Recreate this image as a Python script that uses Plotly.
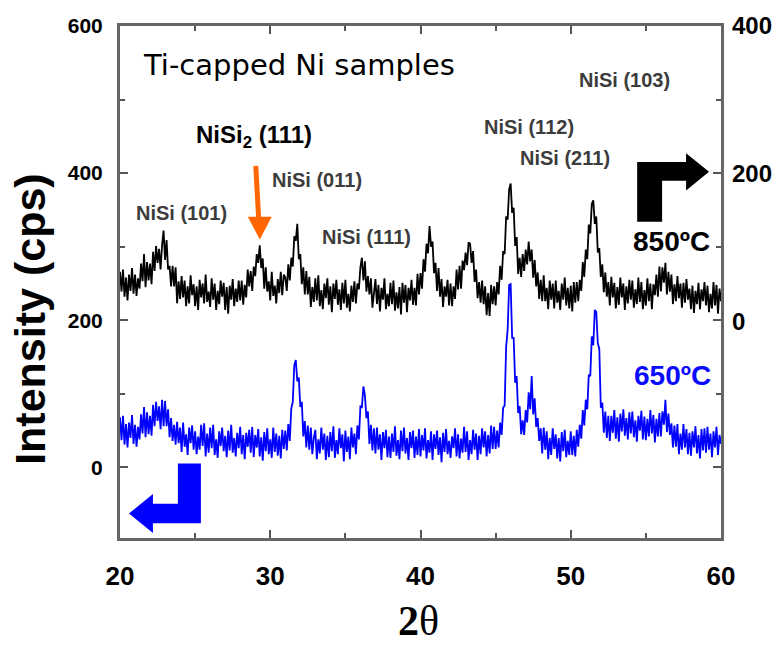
import plotly.graph_objects as go

# 2-theta grid (degrees), 0.1 step from 20 to 60
two_theta = [round(20 + 0.1 * i, 1) for i in range(401)]

# 850 C sample (left-axis units, cps)
i_850 = [
    266, 239, 269, 232, 258, 227, 262, 240, 271, 236,
    262, 233, 257, 243, 277, 253, 290, 245, 279, 254,
    277, 249, 293, 267, 301, 278, 297, 269, 302, 322,
    282, 309, 269, 274, 246, 274, 246, 272, 223, 253,
    229, 260, 231, 254, 219, 246, 223, 261, 234, 249,
    219, 246, 214, 255, 231, 250, 223, 262, 225, 239,
    218, 257, 228, 250, 214, 240, 222, 254, 232, 251,
    214, 245, 209, 247, 228, 256, 219, 243, 225, 254,
    227, 254, 221, 248, 231, 269, 246, 267, 240, 273,
    260, 290, 278, 302, 271, 284, 243, 272, 239, 253,
    227, 266, 233, 247, 223, 256, 237, 266, 234, 262,
    258, 240, 276, 254, 285, 273, 314, 308, 331, 283,
    290, 249, 272, 235, 267, 235, 259, 218, 245, 225,
    257, 227, 261, 219, 241, 215, 250, 230, 257, 221,
    246, 211, 250, 229, 255, 221, 242, 214, 251, 223,
    255, 217, 236, 212, 247, 225, 253, 223, 250, 242,
    272, 285, 254, 280, 239, 260, 235, 257, 217, 242,
    256, 222, 248, 212, 244, 228, 257, 215, 236, 219,
    251, 222, 254, 213, 238, 216, 245, 208, 251, 224,
    248, 211, 244, 227, 255, 221, 244, 220, 263, 235,
    264, 243, 283, 266, 304, 291, 328, 300, 307, 264,
    278, 240, 271, 232, 256, 218, 246, 232, 255, 220,
    250, 219, 246, 229, 269, 242, 274, 243, 281, 268,
    292, 275, 306, 304, 278, 294, 252, 269, 230, 252,
    224, 254, 222, 246, 207, 237, 206, 248, 222, 246,
    220, 252, 235, 274, 255, 294, 290, 341, 337, 378,
    386, 346, 353, 301, 313, 263, 285, 259, 290, 267,
    296, 276, 307, 280, 296, 258, 282, 246, 265, 229,
    255, 226, 261, 226, 244, 215, 254, 228, 250, 216,
    254, 224, 240, 214, 250, 228, 258, 220, 244, 216,
    247, 212, 252, 224, 252, 226, 255, 240, 279, 259,
    296, 283, 330, 318, 358, 363, 331, 341, 292, 298,
    259, 276, 238, 265, 232, 252, 220, 259, 231, 251,
    216, 245, 221, 258, 231, 250, 214, 246, 223, 255,
    228, 254, 217, 242, 222, 258, 225, 252, 215, 241,
    220, 257, 226, 250, 215, 249, 234, 262, 232, 273,
    239, 272, 251, 278, 235, 266, 239, 262, 222, 249,
    226, 260, 230, 250, 217, 251, 224, 256, 228, 243,
    215, 247, 210, 240, 222, 251, 215, 242, 226, 252,
    220, 247, 211, 236, 216, 252, 220, 248, 209, 243,
    226,
]

# 650 C sample (left-axis units, cps)
i_650 = [
    68, 37, 70, 31, 59, 27, 61, 40, 71, 32,
    58, 28, 55, 38, 72, 46, 82, 41, 75, 45,
    70, 43, 85, 56, 89, 63, 83, 52, 92, 56,
    90, 56, 79, 41, 67, 36, 58, 31, 62, 33,
    54, 21, 61, 28, 45, 17, 54, 33, 57, 24,
    49, 18, 42, 24, 58, 29, 60, 15, 46, 20,
    54, 26, 58, 17, 38, 13, 49, 29, 54, 22,
    43, 14, 50, 23, 58, 20, 40, 15, 47, 26,
    55, 18, 44, 11, 47, 28, 51, 20, 55, 14,
    44, 27, 52, 15, 41, 9, 48, 22, 53, 18,
    38, 13, 54, 21, 46, 16, 43, 12, 51, 25,
    50, 23, 59, 36, 80, 89, 139, 146, 117, 122,
    82, 89, 42, 63, 27, 57, 24, 54, 18, 40,
    51, 11, 38, 19, 54, 24, 46, 10, 43, 14,
    48, 22, 56, 13, 37, 18, 53, 26, 45, 8,
    50, 21, 42, 11, 54, 27, 46, 18, 57, 38,
    83, 82, 110, 98, 67, 76, 32, 58, 23, 53,
    19, 54, 24, 45, 10, 48, 26, 51, 14, 42,
    13, 46, 21, 56, 16, 37, 11, 50, 22, 54,
    19, 40, 10, 48, 26, 50, 13, 42, 17, 52,
    15, 44, 23, 53, 12, 37, 20, 49, 10, 45,
    25, 50, 17, 41, 7, 47, 21, 52, 18, 36,
    13, 42, 26, 53, 15, 45, 12, 39, 20, 55,
    21, 49, 10, 37, 18, 51, 24, 46, 10, 43,
    18, 53, 27, 49, 15, 44, 19, 57, 25, 55,
    25, 50, 27, 61, 44, 81, 84, 164, 187, 248,
    249, 176, 176, 115, 124, 74, 83, 45, 64, 44,
    78, 61, 102, 79, 124, 72, 94, 55, 67, 36,
    53, 19, 54, 24, 49, 11, 40, 17, 53, 25,
    45, 12, 40, 8, 48, 22, 51, 14, 36, 17,
    49, 17, 43, 15, 51, 28, 58, 39, 78, 57,
    92, 79, 126, 124, 178, 166, 214, 211, 169, 161,
    81, 88, 47, 76, 40, 70, 36, 70, 47, 78,
    39, 68, 35, 73, 49, 79, 43, 67, 38, 75,
    46, 76, 41, 64, 35, 70, 50, 77, 38, 69,
    37, 66, 42, 78, 46, 71, 34, 66, 42, 74,
    42, 76, 58, 92, 48, 73, 44, 60, 27, 57,
    28, 59, 18, 46, 24, 59, 27, 52, 18, 47,
    16, 49, 27, 56, 19, 44, 12, 52, 23, 53,
    20, 55, 24, 46, 14, 49, 27, 55, 17, 44,
    32,
]

x_ticks = [20, 30, 40, 50, 60]
left_ticks = [0, 200, 400, 600]
right_ticks = [0, 200, 400]

# layout geometry (pixels)
W, H = 784, 645
L, R, T, B = 120, 62, 15, 107
PW, PH = W - L - R, H - T - B


def px(xp):
    return (xp - L) / PW


def py(yp):
    return (H - B - yp) / PH


def path(points):
    return "M " + " L ".join(f"{px(a):.4f},{py(b):.4f}" for a, b in points) + " Z"


fig = go.Figure()
fig.add_trace(go.Scatter(x=two_theta, y=i_850, mode="lines",
                         line=dict(color="#000000", width=1.8), name="850ºC"))
fig.add_trace(go.Scatter(x=two_theta, y=i_650, mode="lines",
                         line=dict(color="#0000ff", width=1.8), name="650ºC"))
# invisible companion so the right-hand axis is drawn
fig.add_trace(go.Scatter(x=two_theta, y=i_850, mode="lines", yaxis="y2", opacity=0,
                         line=dict(width=0), hoverinfo="skip", showlegend=False))

axis_common = dict(showline=True, linewidth=3, linecolor="#666666", mirror="ticks",
                   ticks="inside", ticklen=8, tickwidth=2, tickcolor="#555555",
                   showgrid=False, zeroline=False)

fig.update_layout(
    width=W, height=H,
    margin=dict(l=L, r=R, t=T, b=B),
    paper_bgcolor="white", plot_bgcolor="white",
    showlegend=False,
    xaxis=dict(range=[20, 60], tickvals=x_ticks,
               minor=dict(dtick=5, ticks="inside", ticklen=5, tickwidth=2, tickcolor="#555555"),
               tickfont=dict(family="Liberation Sans", size=26, color="black", weight="bold"),
               ticklabelstandoff=13, **axis_common),
    yaxis=dict(range=[-96, 600], tickvals=left_ticks,
               minor=dict(dtick=100, ticks="inside", ticklen=5, tickwidth=2, tickcolor="#555555"),
               tickfont=dict(family="Liberation Sans", size=21, color="black", weight="bold"),
               ticklabelstandoff=10, **axis_common),
    yaxis2=dict(range=[-292, 400], overlaying="y", side="right", tickvals=right_ticks,
                showline=False, ticks="", showgrid=False, zeroline=False,
                tickfont=dict(family="Liberation Sans", size=24, color="black", weight="bold"),
                ticklabelstandoff=10),
)

annotations = []


def note(text, xp, yp, size, color="black", family="Liberation Sans", weight="bold", angle=0):
    annotations.append(dict(text=text, x=px(xp), y=py(yp), xref="paper", yref="paper",
                            xanchor="center", yanchor="middle", showarrow=False, textangle=angle,
                            font=dict(family=family, size=size, color=color, weight=weight)))


note("Ti-capped Ni samples", 299, 55, 29, family="DejaVu Sans", weight="normal")
note("NiSi<sub>2</sub> (111)", 254, 128, 24)
gray = "#3c3c3c"
note("NiSi (011)", 317, 172, 20, gray)
note("NiSi (101)", 182, 206, 20, gray)
note("NiSi (111)", 367, 231, 20, gray)
note("NiSi (112)", 530, 118, 20, gray)
note("NiSi (211)", 566, 150, 20, gray)
note("NiSi (103)", 625, 70, 20, gray)
note("850ºC", 672, 235, 28)
note("650ºC", 673, 372, 28, "#0a0aff")
note("Intensity (cps)", 30, 314, 43, angle=-90)
note("<b>2</b>θ", 419, 623, 42, family="Liberation Serif", weight="normal")
fig.update_layout(annotations=annotations)

shapes = [
    dict(type="path", xref="paper", yref="paper", fillcolor="black", line=dict(width=0),
         path=path([(638, 215), (638, 154), (687, 154), (687, 145), (710, 164),
                    (687, 183), (687, 173), (663, 173), (663, 215)])),
    dict(type="path", xref="paper", yref="paper", fillcolor="#0000ff", line=dict(width=0),
         path=path([(201, 462), (178, 462), (178, 503), (153, 503), (153, 493),
                    (129, 513), (153, 533), (153, 523), (201, 523)])),
    dict(type="line", xref="paper", yref="paper", x0=px(256), y0=py(158), x1=px(259), y1=py(214),
         line=dict(color="#ff6600", width=5)),
    dict(type="path", xref="paper", yref="paper", fillcolor="#ff6600", line=dict(width=0),
         path=path([(248, 210), (272, 210), (260, 233)])),
]
fig.update_layout(shapes=shapes)

fig.write_html("out.html")
